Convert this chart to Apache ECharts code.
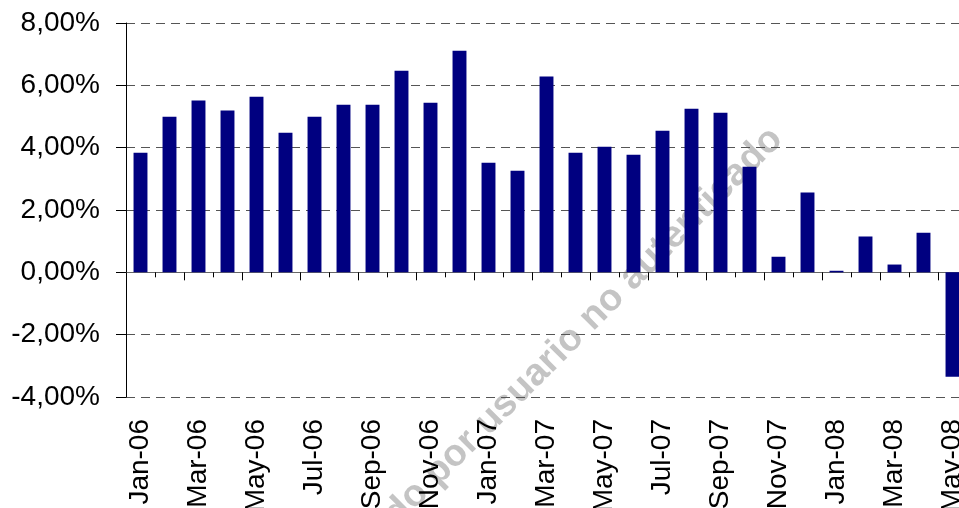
<!DOCTYPE html>
<html>
<head>
<meta charset="utf-8">
<script src="https://cdn.jsdelivr.net/npm/echarts@6/dist/echarts.min.js"></script>
<style>
  html, body { margin: 0; padding: 0; background: #fff; }
  #chartBox { width: 959px; height: 508px; }
</style>
</head>
<body>
<div id="chartBox"></div>
<script>
// meses (Jan-06 .. May-08)
var months = ['Jan-06', 'Feb-06', 'Mar-06', 'Apr-06', 'May-06', 'Jun-06', 'Jul-06', 'Aug-06',
  'Sep-06', 'Oct-06', 'Nov-06', 'Dec-06', 'Jan-07', 'Feb-07', 'Mar-07', 'Apr-07', 'May-07',
  'Jun-07', 'Jul-07', 'Aug-07', 'Sep-07', 'Oct-07', 'Nov-07', 'Dec-07', 'Jan-08', 'Feb-08',
  'Mar-08', 'Apr-08', 'May-08']
// variacion en %
var values = [3.84, 4.99, 5.51, 5.19, 5.63, 4.48, 4.99, 5.38, 5.38, 6.47, 5.44, 7.11,
  3.52, 3.26, 6.28, 3.84, 4.03, 3.77, 4.54, 5.25, 5.12, 3.39, 0.50, 2.56, 0.05, 1.15,
  0.25, 1.27, -3.35]
var yMin = -4
var yMax = 8
var yStep = 2
var watermark = 'do por usuario no autenticado'

var font = "'Liberation Sans', Arial, sans-serif"
var myChart = echarts.init(document.getElementById('chartBox'))

var option = {
  backgroundColor: '#fff',
  animation: false,
  graphic: [
    {
      type: 'text',
      z: -1,
      x: 390,
      y: 520,
      rotation: Math.PI / 4,
      style: {
        text: watermark,
        fill: '#c4c4c4',
        font: 'bold 38px ' + font,
        textAlign: 'left',
        textVerticalAlign: 'middle'
      }
    }
  ],
  grid: {
    left: 126,
    top: 23,
    right: -8,
    bottom: 111,
    containLabel: false,
    outerBoundsMode: 'none'
  },
  xAxis: [
    {
      type: 'category',
      data: months,
      boundaryGap: true,
      axisLine: { onZero: true, lineStyle: { color: '#666', width: 1 } },
      axisTick: {
        show: true,
        inside: false,
        length: 8,
        interval: function (index) { return index % 2 === 0 },
        lineStyle: { color: '#000' }
      },
      axisLabel: {
        interval: 1,
        rotate: 90,
        margin: 22,
        color: '#000',
        fontSize: 28,
        fontFamily: font
      },
      splitLine: { show: false }
    },
    {
      // ticks cortos hacia arriba
      type: 'category',
      data: months,
      boundaryGap: true,
      axisLine: { show: false, onZero: true, onZeroAxisIndex: 0 },
      axisTick: {
        show: true,
        inside: true,
        length: 5,
        interval: function (index) { return index % 2 === 1 },
        lineStyle: { color: '#000' }
      },
      axisLabel: { show: false },
      splitLine: { show: false }
    }
  ],
  yAxis: {
    type: 'value',
    min: yMin,
    max: yMax,
    interval: yStep,
    axisLine: { show: true, lineStyle: { color: '#000', width: 1 } },
    axisTick: { show: true, length: 10, lineStyle: { color: '#000' } },
    axisLabel: {
      margin: 26,
      color: '#000',
      fontSize: 28,
      fontFamily: font,
      formatter: function (v) {
        return v.toFixed(2).replace('.', ',') + '%'
      }
    },
    splitLine: {
      show: true,
      lineStyle: { color: '#555', width: 1, type: [9, 6] }
    }
  },
  series: [
    {
      type: 'bar',
      data: values,
      barWidth: '48%',
      z: 3,
      itemStyle: { color: '#000080' }
    }
  ]
}
myChart.setOption(option)
</script>
</body>
</html>
